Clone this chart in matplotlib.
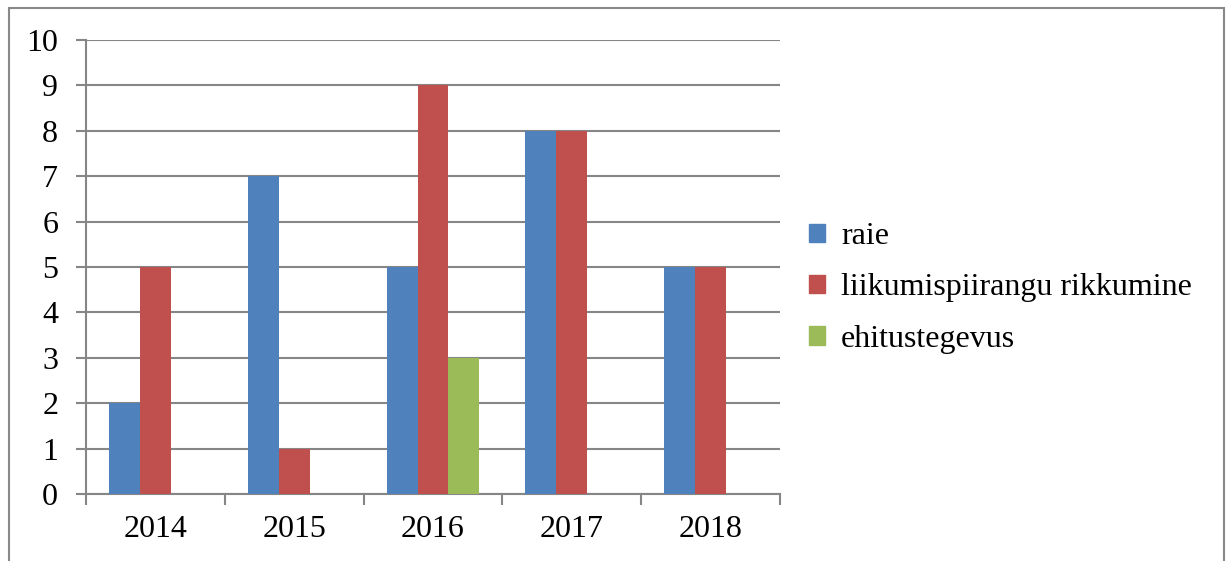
import matplotlib.pyplot as plt
import numpy as np
from matplotlib.patches import Rectangle, Patch

years = ["2014", "2015", "2016", "2017", "2018"]
raie = [2, 7, 5, 8, 5]
liikumine = [5, 1, 9, 8, 5]
ehitus = [0, 0, 3, 0, 0]
labels = ["raie", "liikumispiirangu rikkumine", "ehitustegevus"]
COLOURS = ["#4F81BD", "#C0504D", "#9BBB59"]
GRID = "#868686"

plt.rcParams["font.family"] = ["Liberation Serif", "DejaVu Serif"]
plt.rcParams["font.size"] = 23

fig = plt.figure(figsize=(12.26, 5.61), dpi=100)
ax = fig.add_axes([86 / 1226, 1 - 494 / 561, (780 - 86) / 1226, (494 - 40) / 561])

x = np.arange(len(years))
w = 31 / 139
for i, vals in enumerate([raie, liikumine, ehitus]):
    ax.bar(x + (i - 1) * w, vals, width=w, color=COLOURS[i], zorder=3)

ax.set_xlim(-0.5, len(years) - 0.5)
ax.set_ylim(0, 10)
ax.set_yticks(range(0, 11))
ax.set_xticks(x)
ax.set_xticklabels(years)
ax.set_xticks(np.arange(-0.5, len(years)), minor=True)
ax.tick_params(axis="x", which="major", length=0, pad=15)
ax.tick_params(axis="x", which="minor", length=8, width=1.5, color=GRID, direction="out")
ax.tick_params(axis="y", length=7, width=1.5, color=GRID, pad=13)
ax.grid(axis="y", color=GRID, linewidth=1.5, zorder=0)
for side in ["top", "right"]:
    ax.spines[side].set_visible(False)
for side in ["left", "bottom"]:
    ax.spines[side].set_color(GRID)
    ax.spines[side].set_linewidth(1.5)

handles = [Patch(color=c) for c in COLOURS]
fig.legend(handles, labels, loc="center left", bbox_to_anchor=(809 / 1226, 1 - 288 / 561),
           frameon=False, handlelength=0.5, handleheight=0.5, handletextpad=0.5,
           labelspacing=0.7, borderaxespad=0, borderpad=0)

fig.add_artist(Rectangle((9 / 1226, -0.2), (1224 - 9) / 1226, 1.2 - 8 / 561,
                         transform=fig.transFigure, fill=False, edgecolor="#888888",
                         linewidth=1.5, clip_on=False))

plt.savefig("out.png", dpi=100)
